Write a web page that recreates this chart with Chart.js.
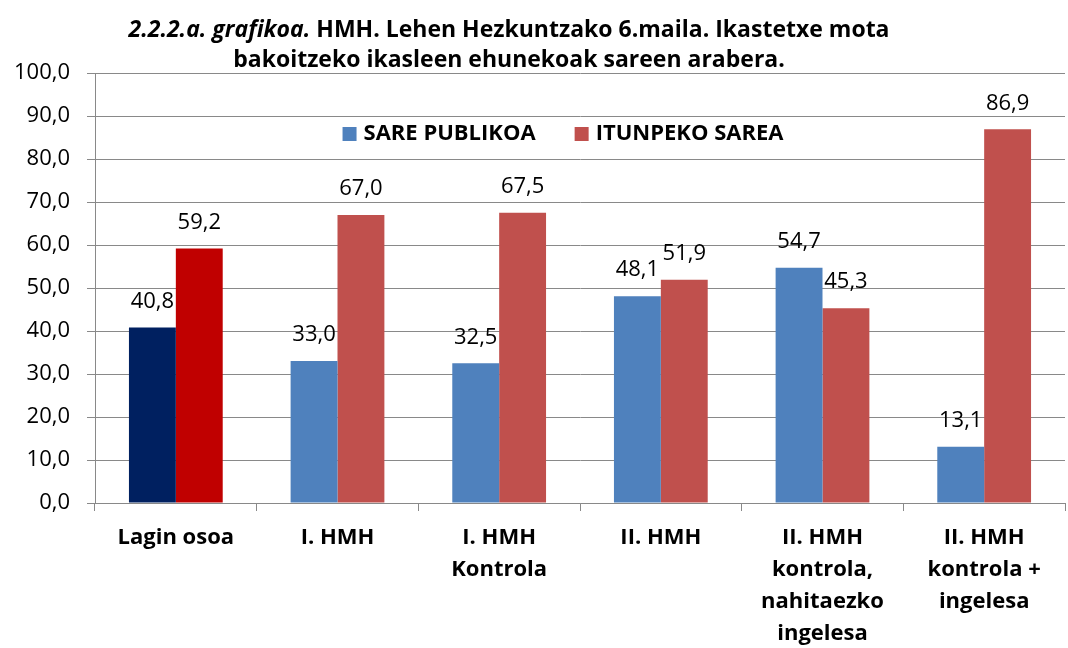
<!DOCTYPE html>
<html lang="eu">
<head>
<meta charset="UTF-8">
<title>2.2.2.a. grafikoa</title>
<script src="https://cdn.jsdelivr.net/npm/chart.js@4.4.1/dist/chart.umd.min.js"></script>
<style>
    body { margin: 0; background: #fff; }
    .wrap { width: 1068px; height: 648px; position: relative; }
</style>
</head>
<body>
<div class="wrap"><canvas id="chart"></canvas></div>
<script>
    // data
    const categories = [
        ['Lagin osoa'],
        ['I. HMH'],
        ['I. HMH', 'Kontrola'],
        ['II. HMH'],
        ['II. HMH', 'kontrola,', 'nahitaezko', 'ingelesa'],
        ['II. HMH', 'kontrola +', 'ingelesa']
    ];
    const seriesNames = ['SARE PUBLIKOA', 'ITUNPEKO SAREA'];
    const publikoa = [40.8, 33.0, 32.5, 48.1, 54.7, 13.1];
    const itunpeko = [59.2, 67.0, 67.5, 51.9, 45.3, 86.9];
    const yTicks = { min: 0, max: 100, step: 10 };
    const titleItalic = '2.2.2.a. grafikoa.';
    const titleRest = ' HMH. Lehen Hezkuntzako 6.maila. Ikastetxe mota';
    const titleLine2 = 'bakoitzeko ikasleen ehunekoak sareen arabera.';

    const FONT = '"Open Sans", sans-serif';
    const blue = '#4F81BD', red = '#C0504D';
    const gridColor = '#898989';

    const fmt = v => v.toFixed(1).replace('.', ',');

    // first category uses its own darker colours
    const blueColors = publikoa.map((v, i) => i === 0 ? '#002060' : blue);
    const redColors = itunpeko.map((v, i) => i === 0 ? '#C00000' : red);

    const valueLabels = {
        id: 'valueLabels',
        afterDatasetsDraw(chart) {
            const ctx = chart.ctx;
            ctx.save();
            ctx.font = '22px ' + FONT;
            ctx.fillStyle = '#000';
            ctx.textAlign = 'center';
            ctx.textBaseline = 'middle';
            chart.data.datasets.forEach((ds, di) => {
                chart.getDatasetMeta(di).data.forEach((bar, i) => {
                    ctx.fillText(fmt(ds.data[i]), bar.x, bar.y - 26);
                });
            });
            ctx.restore();
        }
    };

    const titleAndLegend = {
        id: 'titleAndLegend',
        afterDraw(chart) {
            const ctx = chart.ctx;
            ctx.save();
            ctx.fillStyle = '#000';
            ctx.textBaseline = 'middle';
            ctx.textAlign = 'left';
            // title, first part in italic
            const fi = 'italic bold 23px ' + FONT, fb = 'bold 23px ' + FONT;
            ctx.font = fi;
            const w1 = ctx.measureText(titleItalic).width;
            ctx.font = fb;
            const w2 = ctx.measureText(titleRest).width;
            let x = 509 - (w1 + w2) / 2;
            ctx.font = fi;
            ctx.fillText(titleItalic, x, 30);
            ctx.font = fb;
            ctx.fillText(titleRest, x + w1, 30);
            ctx.textAlign = 'center';
            ctx.fillText(titleLine2, 509, 60);

            // legend inside the plot area
            ctx.textAlign = 'left';
            ctx.font = 'bold 22px ' + FONT;
            const colors = [blue, red];
            const box = 14, gapText = 7, gapItem = 39;
            const widths = seriesNames.map(n => ctx.measureText(n).width);
            const total = widths.reduce((a, w) => a + box + gapText + w, 0) + gapItem;
            let lx = 563 - total / 2;
            const ly = chart.chartArea.top + 61;
            seriesNames.forEach((n, i) => {
                ctx.fillStyle = colors[i];
                ctx.fillRect(lx, ly - box / 2, box, box);
                ctx.fillStyle = '#000';
                ctx.fillText(n, lx + box + gapText, ly);
                lx += box + gapText + widths[i] + gapItem;
            });
            ctx.restore();
        }
    };

    new Chart(document.getElementById('chart'), {
        type: 'bar',
        data: {
            labels: categories,
            datasets: [
                { label: seriesNames[0], data: publikoa, backgroundColor: blueColors },
                { label: seriesNames[1], data: itunpeko, backgroundColor: redColors }
            ]
        },
        options: {
            responsive: true,
            maintainAspectRatio: false,
            animation: false,
            events: [],
            layout: { padding: { top: 73, right: 3, left: 0, bottom: 0 } },
            datasets: { bar: { categoryPercentage: 0.58, barPercentage: 1.0 } },
            plugins: {
                legend: { display: false },
                title: { display: false },
                tooltip: { enabled: false }
            },
            scales: {
                x: {
                    grid: { drawOnChartArea: false, drawTicks: true, tickLength: 8, color: gridColor },
                    border: { color: gridColor, width: 1 },
                    ticks: {
                        color: '#000',
                        font: { family: FONT, size: 22, weight: 'bold', lineHeight: 1.45 },
                        padding: 11,
                        maxRotation: 0,
                        autoSkip: false
                    },
                    afterFit(s) { s.height = 145; }
                },
                y: {
                    min: yTicks.min,
                    max: yTicks.max,
                    grid: { color: gridColor, tickLength: 8 },
                    border: { color: gridColor, width: 1 },
                    ticks: {
                        stepSize: yTicks.step,
                        color: '#000',
                        font: { family: FONT, size: 22 },
                        padding: 17,
                        callback: v => fmt(v)
                    },
                    afterFit(s) { s.width = 95; }
                }
            }
        },
        plugins: [valueLabels, titleAndLegend]
    });
</script>
</body>
</html>
